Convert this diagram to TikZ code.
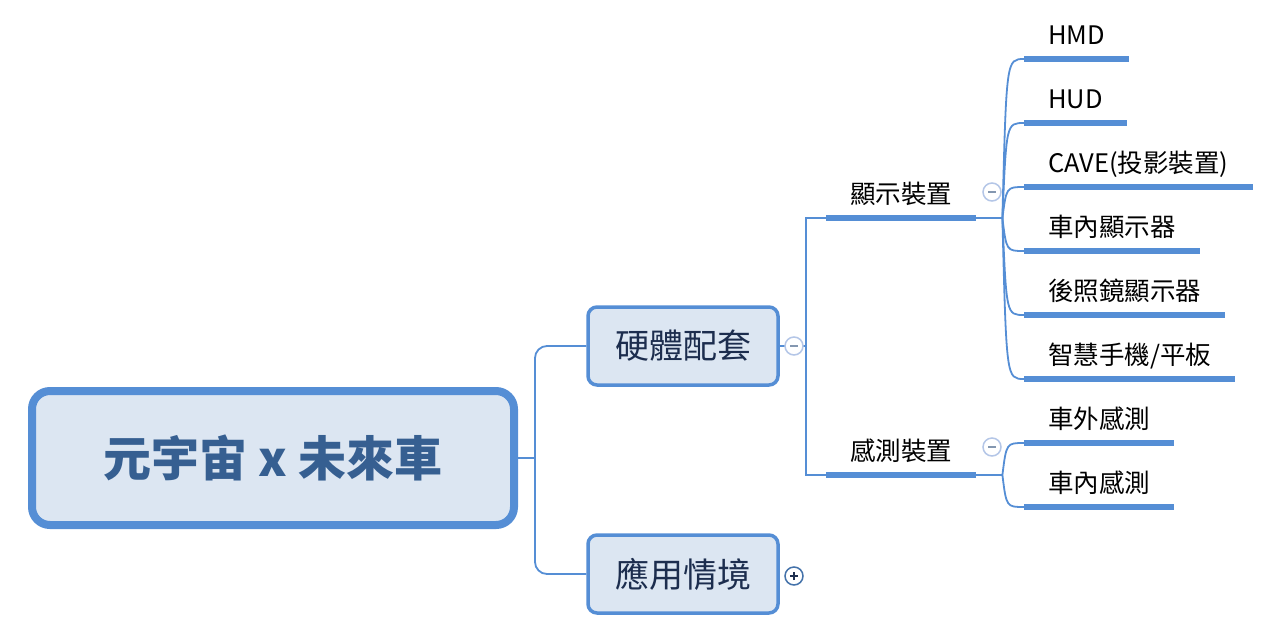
\documentclass[tikz,border=0pt]{standalone}
\usepackage{fontspec}
\setmainfont{Noto Sans CJK TC}
\usepackage{tikz}
\definecolor{mapblue}{RGB}{85,142,213}
\definecolor{mapfill}{RGB}{220,230,242}
\definecolor{roottext}{RGB}{54,95,145}
\definecolor{branchtext}{RGB}{28,45,78}
\definecolor{foldlight}{RGB}{180,198,231}
\definecolor{foldmark}{RGB}{132,151,176}
\definecolor{folddark}{RGB}{31,47,79}

\begin{document}
\begin{tikzpicture}[
  x=1pt, y=-1pt,
  link/.style={draw=mapblue, line width=1.8pt},
  bar/.style={draw=mapblue, line width=5.5pt},
  root/.style={
    rectangle, draw=mapblue, line width=8pt, rounded corners=18pt,
    fill=mapfill, minimum width=482pt, minimum height=134pt,
    font=\fontsize{48}{52}\selectfont\bfseries, text=roottext
  },
  branch/.style={
    rectangle, draw=mapblue, line width=3.5pt, rounded corners=9pt,
    fill=mapfill, minimum width=190pt, minimum height=78pt,
    font=\fontsize{34}{38}\selectfont, text=branchtext
  },
  leaf/.style={
    anchor=south west, inner xsep=24pt, inner ysep=10pt,
    text height=19pt, text depth=4.5pt, font=\fontsize{25.5}{28}\selectfont,
    append after command={(\tikzlastnode.south west) edge[bar] (\tikzlastnode.south east)} % barra sotto il testo
  },
  fold/.style={circle, fill=white, line width=1.5pt, minimum size=18pt, inner sep=0pt},
  minus/.style={fold, draw=foldlight,
    path picture={\draw[foldmark, line width=1.6pt]
      ([xshift=-4pt]path picture bounding box.center) -- ([xshift=4pt]path picture bounding box.center);}},
  plus/.style={fold, draw=mapblue!80!black,
    path picture={\draw[folddark, line width=1.6pt]
      ([xshift=-4pt]path picture bounding box.center) -- ([xshift=4pt]path picture bounding box.center)
      ([yshift=-4pt]path picture bounding box.center) -- ([yshift=4pt]path picture bounding box.center);}}
]
\useasboundingbox (0,0) rectangle (1272,638);

\node[root] (meta) at (273,458) {元宇宙 x 未來車};
\node[branch] (hw) at (683,346) {硬體配套};
\node[branch] (app) at (683,574) {應用情境};

\node[leaf] (disp) at (826,218) {顯示裝置};
\node[leaf] (sens) at (826,475) {感測裝置};

\node[leaf] (hmd) at (1024,59) {HMD};
\node[leaf] (hud) at (1024,123) {HUD};
\node[leaf] (cave) at (1024,187) {CAVE(投影裝置)};
\node[leaf] (incar) at (1024,251) {車內顯示器};
\node[leaf] (mirror) at (1024,315) {後照鏡顯示器};
\node[leaf] (phone) at (1024,379) {智慧手機/平板};
\node[leaf] (outsens) at (1024,443) {車外感測};
\node[leaf] (insens) at (1024,507) {車內感測};

\draw[link] (meta.east) -- ++(17,0) coordinate (j0);
\draw[link, rounded corners=12pt] (hw.west) -| (j0) |- (app.west);
\draw[link] (hw.east) -- ++(26,0) coordinate (j1);
\draw[link] (disp.south west) -| (j1) |- (sens.south west);

\draw[link] (disp.south east) -- ++(26,0) coordinate (f1) ++(4,0) coordinate (c1);
\draw[link] (sens.south east) -- ++(26,0) coordinate (f2) ++(4,0) coordinate (c2);

\draw[link] (f1) .. controls (c1 |- hmd.south west) .. (hmd.south west);
\draw[link] (f1) .. controls (c1 |- hud.south west) .. (hud.south west);
\draw[link] (f1) .. controls (c1 |- cave.south west) .. (cave.south west);
\draw[link] (f1) .. controls (c1 |- incar.south west) .. (incar.south west);
\draw[link] (f1) .. controls (c1 |- mirror.south west) .. (mirror.south west);
\draw[link] (f1) .. controls (c1 |- phone.south west) .. (phone.south west);
\draw[link] (f2) .. controls (c2 |- outsens.south west) .. (outsens.south west);
\draw[link] (f2) .. controls (c2 |- insens.south west) .. (insens.south west);

\node[minus] (foldhw) at (794,346) {};
\node[plus] (foldapp) at (794,576) {};
\node[minus] (folddisp) at (992,192) {};
\node[minus] (foldsens) at (992,447) {};
\end{tikzpicture}
\end{document}
